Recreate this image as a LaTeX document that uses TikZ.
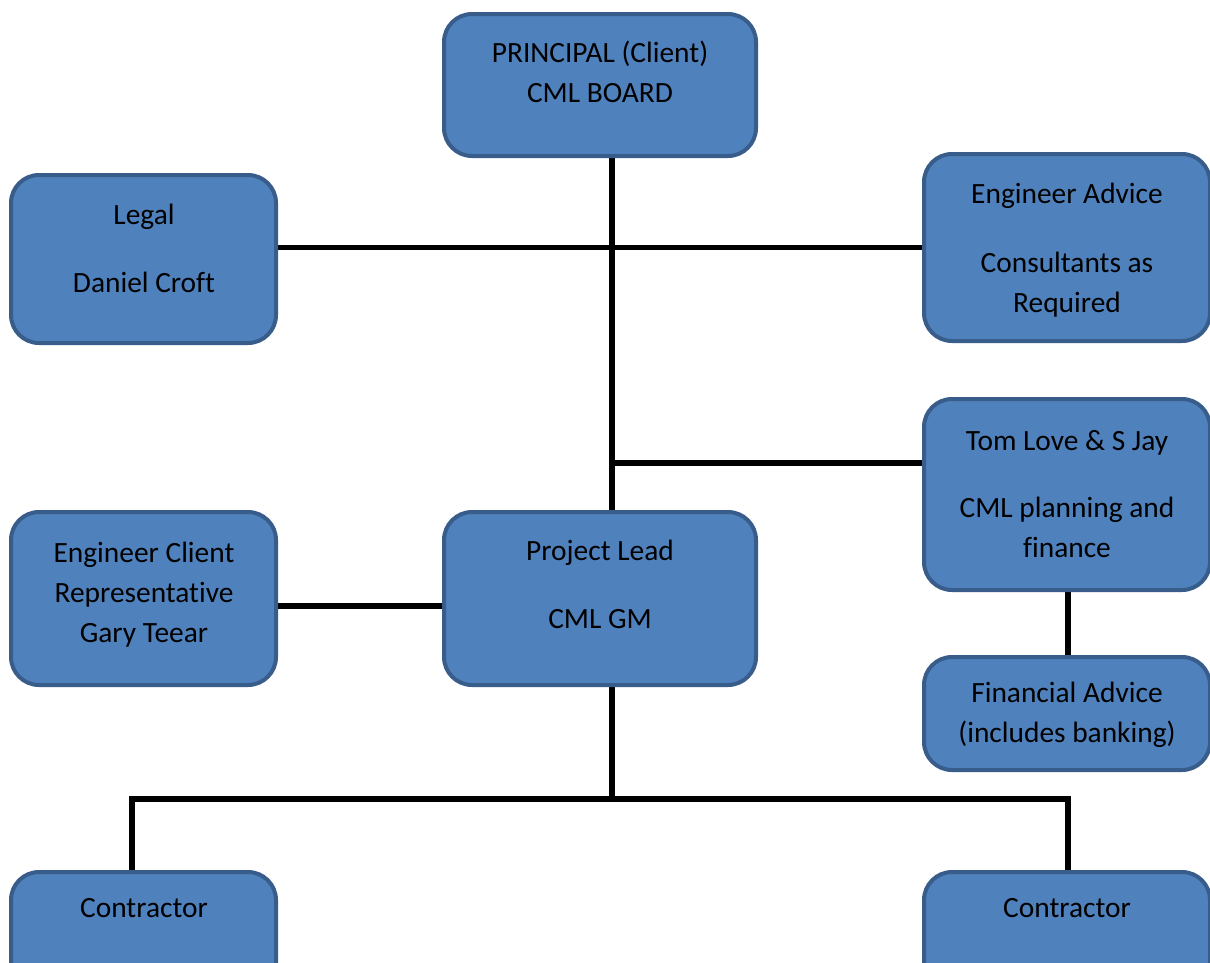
\documentclass[tikz,border=0pt]{standalone}
\usepackage{fontspec}
\setmainfont[Ligatures={NoCommon}]{Carlito}
\definecolor{boxfill}{HTML}{4F81BD}
\definecolor{boxline}{HTML}{385D8A}
\newcommand\boxtxt[1]{\begin{tabular}[t]{@{}c@{}}#1\end{tabular}}
\pgfdeclarelayer{background}
\pgfsetlayers{background,main}
\begin{document}
\begin{tikzpicture}[x=1pt,y=-1pt,
  orgbox/.style={draw=boxline, fill=boxfill, line width=4pt, rounded corners=28pt,
    rectangle, inner sep=0pt},
  lbl/.style={anchor=base, inner sep=0pt, font=\fontsize{29.4}{40}\selectfont, text=black},
  conn/.style={draw=black, line width=5.5pt}]
\useasboundingbox (0,0) rectangle (1210,962);
\clip (0,0) rectangle (1210,962);
% junction coordinates
\coordinate (j1) at (612,463);
\coordinate (bus) at (612,799);
% boxes
\path
  (600,85)     node[orgbox, minimum width=312pt, minimum height=142pt] (top) {}
  (143.5,259)  node[orgbox, minimum width=265pt, minimum height=168pt] (legal) {}
  (1067,247.5) node[orgbox, minimum width=286pt, minimum height=187pt] (eadv) {}
  (1067,494.5) node[orgbox, minimum width=286pt, minimum height=191pt] (tom) {}
  (1067,713.5) node[orgbox, minimum width=286pt, minimum height=113pt] (fin) {}
  (143.5,598.5) node[orgbox, minimum width=265pt, minimum height=173pt] (eclient) {}
  (600,598.5)  node[orgbox, minimum width=312pt, minimum height=173pt] (lead) {}
  (143.5,947)  node[orgbox, minimum width=265pt, minimum height=150pt] (conL) {}
  (1067,947)   node[orgbox, minimum width=286pt, minimum height=150pt] (conR) {};
% connectors behind the boxes
\begin{pgfonlayer}{background}
\fill[white] (0,0) rectangle (1210,962);
\draw[conn] ([xshift=12pt]top.south) -- ([xshift=12pt]lead.north);
\draw[conn] (eadv.west) -- (eadv.west -| legal.east);
\draw[conn] (j1) -- (j1 -| tom.west);
\draw[conn] ([yshift=-7.5pt]eclient.east) -- ([yshift=-7.5pt]eclient.east -| lead.west);
\draw[conn] ([xshift=1pt]tom.south) -- ([xshift=1pt]fin.north);
\draw[conn] ([xshift=12pt]lead.south) -- (bus);
\draw[conn, line cap=rect] ([xshift=-11.5pt]conL.north) |- ([xshift=1pt]conR.north |- bus) -- ([xshift=1pt]conR.north);
\end{pgfonlayer}
% texts
\node[lbl] (ttop) at (600,62) {\boxtxt{PRINCIPAL (Client)\\CML BOARD}};
\node[lbl] (tlegal) at (144,224) {\boxtxt{Legal\\[28pt]Daniel Croft}};
\node[lbl] (teadv) at (1067,203) {\boxtxt{Engineer Advice\\[29pt]Consultants as\\Required}};
\node[lbl] (ttom) at (1067,450) {\boxtxt{Tom Love \& S Jay\\[27pt]CML planning and\\finance}};
\node[lbl] (tfin) at (1067,702) {\boxtxt{Financial Advice\\(includes banking)}};
\node[lbl] (teclient) at (144,562) {\boxtxt{Engineer Client\\Representative\\Gary Teear}};
\node[lbl] (tlead) at (600,560) {\boxtxt{Project Lead\\[28pt]CML GM}};
\node[lbl] (tconL) at (144,917) {Contractor};
\node[lbl] (tconR) at (1067,917) {Contractor};
\end{tikzpicture}
\end{document}
